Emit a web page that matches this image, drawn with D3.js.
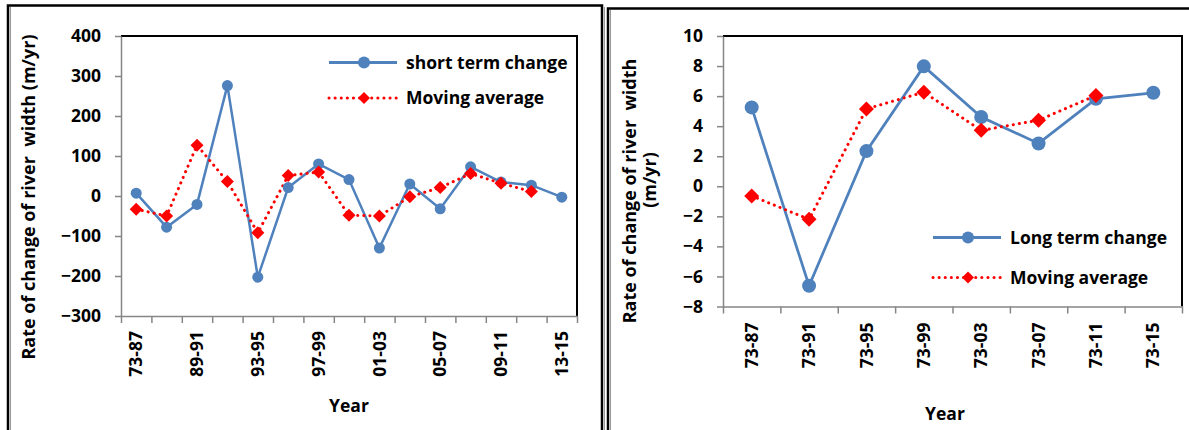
<!DOCTYPE html>
<html>
<head>
<meta charset="utf-8">
<script src="https://cdn.jsdelivr.net/npm/d3@7"></script>
<style>
  body { margin: 0; background: #fff; }
  text { font-family: "Open Sans", sans-serif; font-weight: bold; }
</style>
</head>
<body>
<div id="chart"></div>
<script>
// rate of change of river width - short term (left) and long term (right)

var shortCats = ['73-87','87-89','89-91','91-93','93-95','95-97','97-99','99-01','01-03','03-05','05-07','07-09','09-11','11-13','13-15'];
var shortChange = [7, -78, -21, 276, -203, 21, 80, 41, -130, 30, -32, 73, 35, 27, -3];
var shortMovAvg = [-33, -50, 127, 36, -92, 51, 60, -48, -50, -2, 21, 56, 32, 11, null];
var shortTicks = [-300, -200, -100, 0, 100, 200, 300, 400];

var longCats = ['73-87','73-91','73-95','73-99','73-03','73-07','73-11','73-15'];
var longChange = [5.25, -6.62, 2.34, 7.98, 4.61, 2.85, 5.82, 6.22];
var longMovAvg = [-0.64, -2.2, 5.15, 6.26, 3.72, 4.4, 6.04, null];
var longTicks = [-8, -6, -4, -2, 0, 2, 4, 6, 8, 10];

var W = 1189, H = 430;
var blue = '#4F81BD', red = '#FF0000', axisGray = '#868686';
var fontFam = '"Open Sans", sans-serif';

var svg = d3.select('#chart').append('svg')
    .attr('width', W)
    .attr('height', H)

// panel frames
svg.append('rect').attr('x', 8).attr('y', 5.5).attr('width', 594).attr('height', 440)
    .attr('fill', 'none').attr('stroke', 'black').attr('stroke-width', 2.5)
svg.append('rect').attr('x', 608).attr('y', 8.5).attr('width', 600).attr('height', 440)
    .attr('fill', 'none').attr('stroke', 'black').attr('stroke-width', 2.5)
// little grey edge next to the frames
svg.append('line').attr('x1', 10.5).attr('x2', 10.5).attr('y1', 7).attr('y2', H).attr('stroke', '#999').attr('stroke-width', 1)
svg.append('line').attr('x1', 604.5).attr('x2', 604.5).attr('y1', 7).attr('y2', H).attr('stroke', '#999').attr('stroke-width', 1)
svg.append('line').attr('x1', 610.5).attr('x2', 610.5).attr('y1', 10).attr('y2', H).attr('stroke', '#999').attr('stroke-width', 1)

function diamond(g, x, y, r){
    g.append('path')
        .attr('d', `M${x},${y - r}L${x + r},${y}L${x},${y + r}L${x - r},${y}Z`)
        .attr('fill', red)
}

function drawPanel(p){
    var g = svg.append('g')

    var x = d3.scaleBand().domain(p.cats).range([p.left, p.right]).padding(0)
    var xEdge = d3.scaleLinear().domain([0, p.cats.length]).range([p.left, p.right])
    var y = d3.scaleLinear().domain(p.yDomain).range([p.bottom, p.top])
    var cx = d => x(d) + x.bandwidth() / 2

    // plot frame: black top / right
    g.append('path')
        .attr('d', `M${p.left},${p.top}H${p.right}V${p.bottom}`)
        .attr('fill', 'none').attr('stroke', 'black').attr('stroke-width', 2)

    // y axis
    var ya = g.append('g')
        .attr('transform', `translate(${p.left},0)`)
        .call(d3.axisLeft(y).tickValues(p.yTicks).tickSize(6).tickPadding(14).tickSizeOuter(0))
    ya.select('.domain').attr('stroke', axisGray).attr('stroke-width', 1.5)
    ya.selectAll('.tick line').attr('stroke', axisGray).attr('stroke-width', 1.5)
    ya.selectAll('text').attr('font-size', '17.5px').attr('fill', 'black').style('font-family', fontFam)

    // x axis: ticks between categories
    var xt = g.append('g')
        .attr('transform', `translate(0,${p.bottom})`)
        .call(d3.axisBottom(xEdge).tickValues(d3.range(p.cats.length + 1)).tickSize(7).tickFormat('').tickSizeOuter(0))
    xt.select('.domain').attr('stroke', axisGray).attr('stroke-width', 1.5)
    xt.selectAll('.tick line').attr('stroke', axisGray).attr('stroke-width', 1.5)

    // x labels, rotated
    var xl = g.append('g')
        .attr('transform', `translate(0,${p.bottom})`)
        .call(d3.axisBottom(x).tickSize(0).tickFormat((d, i) => i % p.labelStep ? '' : d))
    xl.select('.domain').remove()
    xl.selectAll('text')
        .attr('transform', 'rotate(-90)')
        .attr('x', -p.labelGap)
        .attr('y', 0)
        .attr('dy', '0.35em')
        .attr('text-anchor', 'end')
        .attr('font-size', '17.5px')
        .attr('fill', 'black')
        .style('font-family', fontFam)

    // series
    var line = d3.line().defined(d => d[1] != null).x(d => cx(d[0])).y(d => y(d[1]))
    var mainPts = p.cats.map((c, i) => [c, p.main[i]])
    var maPts = p.cats.map((c, i) => [c, p.ma[i]])

    g.append('path')
        .attr('d', line(mainPts))
        .attr('fill', 'none').attr('stroke', blue).attr('stroke-width', p.lw)
    g.append('path')
        .attr('d', line(maPts))
        .attr('fill', 'none').attr('stroke', red).attr('stroke-width', 3)
        .attr('stroke-linecap', 'round').attr('stroke-dasharray', '0.1,6')

    mainPts.forEach(function(d){
        g.append('circle').attr('cx', cx(d[0])).attr('cy', y(d[1])).attr('r', p.cr).attr('fill', blue)
    })
    maPts.filter(d => d[1] != null).forEach(function(d){
        diamond(g, cx(d[0]), y(d[1]), p.dr)
    })

    // legend
    var lg = g.append('g')
    lg.append('line').attr('x1', p.legX).attr('x2', p.legX + 68).attr('y1', p.legY).attr('y2', p.legY)
        .attr('stroke', blue).attr('stroke-width', 3)
    lg.append('circle').attr('cx', p.legX + 35).attr('cy', p.legY).attr('r', 6).attr('fill', blue)
    lg.append('line').attr('x1', p.legX).attr('x2', p.legX + 68).attr('y1', p.legY + p.legGap).attr('y2', p.legY + p.legGap)
        .attr('stroke', red).attr('stroke-width', 3).attr('stroke-linecap', 'round').attr('stroke-dasharray', '0.1,6')
    diamond(lg, p.legX + 35, p.legY + p.legGap, 6)
    lg.append('text').attr('x', p.legX + 77).attr('y', p.legY).attr('dy', '0.35em')
        .attr('font-size', '17.5px').text(p.mainName)
    lg.append('text').attr('x', p.legX + 77).attr('y', p.legY + p.legGap).attr('dy', '0.35em')
        .attr('font-size', '17.5px').text('Moving average')

    // axis titles
    g.append('text')
        .attr('x', p.yearX).attr('y', p.yearY)
        .attr('text-anchor', 'middle').attr('font-size', '17.5px')
        .text('Year')

    p.yTitle.forEach(function(t){
        g.append('text')
            .attr('transform', `translate(${t.x},${t.y}) rotate(-90)`)
            .attr('text-anchor', 'middle').attr('font-size', '18px')
            .style('white-space', 'pre')
            .text(t.text)
    })
}

drawPanel({
    cats: shortCats, main: shortChange, ma: shortMovAvg,
    yDomain: [-300, 400], yTicks: shortTicks,
    left: 121, right: 577, top: 36, bottom: 316,
    labelStep: 2, labelGap: 15, lw: 2.5, cr: 5.5, dr: 6.5,
    legX: 329, legY: 62.5, legGap: 35.5, mainName: 'short term change',
    yearX: 349, yearY: 412,
    yTitle: [{x: 35, y: 197, text: 'Rate of change of river  width (m/yr)'}]
})

drawPanel({
    cats: longCats, main: longChange, ma: longMovAvg,
    yDomain: [-8, 10], yTicks: longTicks,
    left: 723, right: 1182, top: 36, bottom: 306.5,
    labelStep: 1, labelGap: 16, lw: 2.75, cr: 7, dr: 7.5,
    legX: 933, legY: 237.5, legGap: 40, mainName: 'Long term change',
    yearX: 945, yearY: 420,
    yTitle: [{x: 636, y: 191, text: 'Rate of change of river  width'},
             {x: 656, y: 180, text: '(m/yr)'}]
})
</script>
</body>
</html>
